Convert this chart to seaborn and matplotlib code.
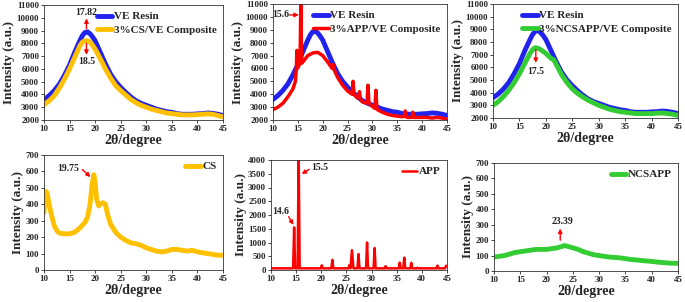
import matplotlib
matplotlib.use("Agg")
import matplotlib.pyplot as plt
import seaborn as sns
import pandas as pd

# ---------------- data ----------------
ve_x = [10,11,12,13,14,15,16,17,17.5,18,18.5,19,19.5,20,21,22,23,24,25,26,27,28,29,30,31,32,33,34,35,36,37,38,39,40,41,42,43,44,45]
ve_y = [3600,3900,4300,4800,5500,6300,7300,8200,8600,8850,8900,8750,8500,8200,7300,6400,5600,5000,4550,4150,3800,3500,3300,3150,3000,2850,2750,2650,2600,2500,2450,2450,2450,2480,2500,2550,2520,2450,2350]

csve_x = ve_x
csve_y = [3200,3500,3900,4500,5200,6000,6900,7800,8100,8200,8200,8100,7850,7550,6800,6000,5300,4700,4300,3950,3600,3350,3150,3000,2850,2750,2650,2550,2500,2450,2400,2400,2400,2420,2450,2480,2450,2350,2250]

appve_x = [10,11,12,13,14,14.5,14.7,14.8,14.9,15.2,15.45,15.6,15.75,16,17,18,19,20,21,21.9,22.1,22.3,23,24,25,25.9,26.1,26.3,27,27.4,27.6,28,28.9,29.1,29.3,30,30.5,30.7,30.9,31,32,33,34,35,36,36.4,36.6,36.8,37,38,38.1,38.3,39,40,41,42,43,44,45]
appve_y = [2800,3000,3300,3800,4400,5000,6000,7400,6000,6200,6400,11500,6400,6500,7000,7200,7250,7000,6500,6000,6300,5900,5300,4700,4250,4000,5000,4000,3700,4200,3600,3400,3300,4700,3300,3050,2900,4300,2900,2800,2600,2450,2350,2300,2250,2300,2700,2250,2200,2200,2600,2200,2200,2200,2200,2150,2200,2150,2050]

ncsve_x = [10,11,12,13,14,15,16,17,17.5,18,18.5,19,20,21,21.5,22,23,24,25,26,27,28,29,30,31,32,33,34,35,36,37,38,39,40,41,42,43,44,45]
ncsve_y = [3000,3300,3700,4200,4800,5500,6300,7100,7400,7550,7500,7400,7100,6700,6600,6200,5400,4800,4300,3950,3650,3400,3200,3000,2850,2700,2600,2500,2450,2400,2350,2350,2350,2350,2380,2400,2350,2300,2200]

cs_x = [10,10.3,10.6,11,11.5,12,12.5,13,14,15,16,17,18,18.5,19,19.4,19.75,20,20.3,20.7,21,21.5,22,22.5,23,24,25,26,27,28,29,30,31,32,33,34,35,36,37,38,39,40,41,42,43,44,45]
cs_y = [350,480,470,400,330,270,240,225,220,220,230,255,290,320,400,520,580,530,430,390,400,410,400,330,280,230,200,180,165,160,150,135,125,115,110,115,125,125,120,115,120,110,105,100,95,90,90]

app_x = [10,14.4,14.6,14.8,15.3,15.5,15.7,19.9,20.1,20.3,22.0,22.2,22.4,25.4,25.6,25.8,26.1,26.4,27.2,27.4,27.6,28.9,29.1,29.3,30.4,30.6,30.8,32.6,32.8,33.0,35.4,35.6,35.8,36.3,36.5,36.7,37.7,37.9,38.1,38.9,39.1,39.3,42.9,43.1,43.3,44.6,44.8,45]
app_y = [60,60,1550,60,60,4300,60,60,170,60,60,370,60,60,180,60,720,60,60,580,60,60,1000,60,60,800,60,60,140,60,60,270,60,60,450,60,60,260,60,60,80,60,60,160,60,60,150,150]

ncs_x = [10,11,12,13,14,15,16,17,18,19,20,21,22,23,23.4,24,25,26,27,28,29,30,31,32,33,34,35,36,37,38,39,40,41,42,43,44,45]
ncs_y = [90,95,100,110,120,125,130,135,140,140,140,145,150,160,165,160,150,140,125,115,105,100,95,90,88,85,80,75,72,68,65,62,58,55,52,50,50]

x_ticks = [10,15,20,25,30,35,40,45]
top_yticks = list(range(2000, 11001, 1000))
cs_yticks = list(range(0, 701, 100))
app_yticks = list(range(0, 4001, 500))

BLUE = "#2222ee"
ORANGE = "#ffc000"
RED = "#ff0000"
GREEN = "#33cc33"

sns.set_style("ticks")
plt.rcParams['font.family'] = ['Liberation Serif', 'DejaVu Serif']
plt.rcParams['font.weight'] = 'bold'
plt.rcParams['axes.labelweight'] = 'bold'

fig = plt.figure(figsize=(6.85, 3.02), dpi=100)

def make_ax(l, r, t, b):
    return fig.add_axes([l/685, 1-b/302, (r-l)/685, (b-t)/302])

def style(ax, yticks, ylim):
    ax.set_xlim(10, 45)
    ax.set_ylim(*ylim)
    ax.set_xticks(x_ticks)
    ax.set_yticks(yticks)
    ax.tick_params(labelsize=6.5, length=2, width=0.6, pad=1.5)
    for lab in ax.get_xticklabels() + ax.get_yticklabels():
        lab.set_fontweight('bold')
    for s in ax.spines.values():
        s.set_linewidth(0.6)
        s.set_color('#333333')
    ax.set_xlabel("2θ/degree", fontsize=10, fontweight='bold', labelpad=1)
    ax.set_ylabel("Intensity (a.u.)", fontsize=9.5, fontweight='bold', labelpad=1)

def legend(ax):
    ax.legend(loc='upper right', frameon=False, handlelength=1.4,
              handletextpad=0.1, borderaxespad=0.2, labelspacing=0.3,
              prop={'weight': 'bold', 'size': 8})

def arrow(ax, x0, y0, x1, y1):
    ax.annotate("", xy=(x1, y1), xytext=(x0, y0),
                arrowprops=dict(arrowstyle='-|>', color=RED, lw=1.0,
                                mutation_scale=6, shrinkA=0, shrinkB=0))

def txt(ax, x, y, s):
    ax.text(x, y, s, fontsize=7, fontweight='bold', ha='center', va='center', color='#222222')

# Panel 1
ax1 = make_ax(44, 223, 5, 120)
sns.lineplot(x=ve_x, y=ve_y, ax=ax1, color=BLUE, lw=3.5, label="VE Resin")
sns.lineplot(x=csve_x, y=csve_y, ax=ax1, color=ORANGE, lw=3.5, label="3%CS/VE Composite")
style(ax1, top_yticks, (2000, 11000))
legend(ax1)
arrow(ax1, 18.3, 9150, 18.3, 9950)
txt(ax1, 18.3, 10450, "17.82")
arrow(ax1, 18.3, 8000, 18.3, 7100)
txt(ax1, 18.3, 6550, "18.5")

# Panel 2
ax2 = make_ax(273, 447, 4, 120)
sns.lineplot(x=ve_x, y=ve_y, ax=ax2, color=BLUE, lw=3.5, label="VE Resin")
sns.lineplot(x=appve_x, y=appve_y, ax=ax2, color=RED, lw=2.5, label="3%APP/VE Composite")
style(ax2, top_yticks, (2000, 11000))
legend(ax2)
arrow(ax2, 13.3, 10150, 15.2, 10150)
txt(ax2, 11.5, 10150, "15.6")

# Panel 3
ax3 = make_ax(493, 678, 4, 118)
sns.lineplot(x=ve_x, y=ve_y, ax=ax3, color=BLUE, lw=3.5, label="VE Resin")
sns.lineplot(x=ncsve_x, y=ncsve_y, ax=ax3, color=GREEN, lw=3.5, label="3%NCSAPP/VE Composite")
style(ax3, top_yticks, (2000, 11000))
legend(ax3)
arrow(ax3, 18.1, 7400, 18.1, 6350)
txt(ax3, 18.1, 5650, "17.5")

# Panel 4
ax4 = make_ax(44, 223, 155, 270)
sns.lineplot(x=cs_x, y=cs_y, ax=ax4, color=ORANGE, lw=3.5, label="CS")
style(ax4, cs_yticks, (0, 700))
legend(ax4)
arrow(ax4, 17.5, 611, 19.1, 566)
txt(ax4, 14.7, 615, "19.75")

# Panel 5
ax5 = make_ax(271, 447, 160, 270)
sns.lineplot(x=app_x, y=app_y, ax=ax5, color=RED, lw=1.8, label="APP")
style(ax5, app_yticks, (0, 4000))
legend(ax5)
arrow(ax5, 17.6, 3660, 16.1, 3490)
txt(ax5, 19.6, 3730, "15.5")
arrow(ax5, 13.5, 1940, 14.45, 1640)
txt(ax5, 12.0, 2120, "14.6")

# Panel 6
ax6 = make_ax(494, 678, 163, 271)
sns.lineplot(x=ncs_x, y=ncs_y, ax=ax6, color=GREEN, lw=3.5, label="NCSAPP")
style(ax6, cs_yticks, (0, 700))
legend(ax6)
arrow(ax6, 22.6, 200, 22.6, 275)
txt(ax6, 23.1, 320, "23.39")

fig.savefig("out.png", dpi=100)
